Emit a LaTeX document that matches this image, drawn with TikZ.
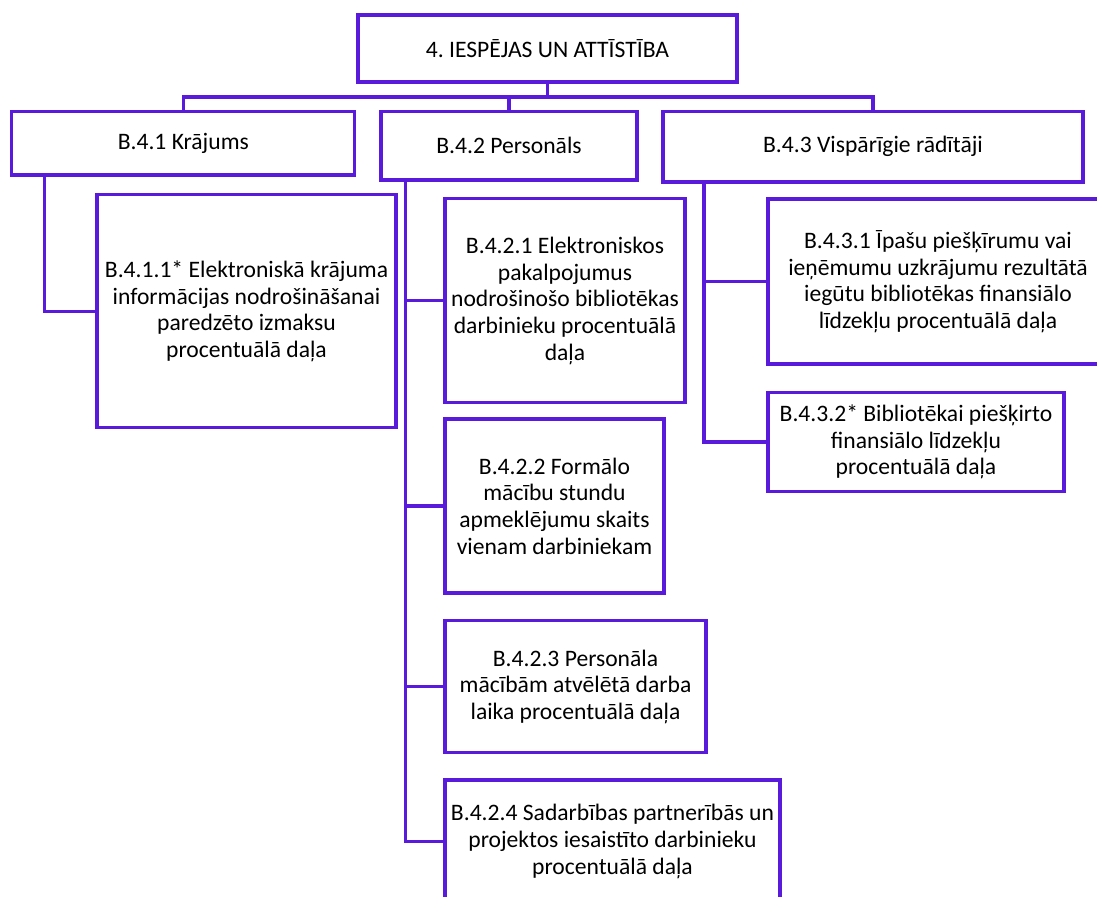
\documentclass[tikz,border=0pt]{standalone}
\usepackage{fontspec}
\setmainfont{Carlito}
\usepackage{tikz}
\usetikzlibrary{calc}
\definecolor{Violet}{HTML}{5A1ADC}
\tikzset{
  box/.style={draw=Violet,line width=1.6pt,fill=white,align=center,inner sep=2pt,
              font=\fontsize{11.8}{13.3}\selectfont\frenchspacing},
  branch/.style={draw=Violet,line width=1.6pt}
}
\begin{document}
\begin{tikzpicture}[x=0.5pt,y=-0.5pt]
  \useasboundingbox (0,0) rectangle (1097,897);
  \clip (0,0) rectangle (1097,897);
  % top level
  \node[box,minimum width=189.5pt,minimum height=33.5pt] (root) at (547.5,48.5) {4. IESPĒJAS UN ATTĪSTĪBA};
  % second level
  \node[box,minimum width=171.5pt,minimum height=31.75pt] (stock) at (183.3,143.3) {B.4.1 Krājums};
  \node[box,minimum width=128pt,minimum height=34.25pt] (staff) at (509,145.8) {B.4.2 Personāls};
  \node[box,minimum width=210pt,minimum height=35.25pt] (general) at (873,146.8) {B.4.3 Vispārīgie rādītāji};
  % indicators
  \node[box,minimum width=149.5pt,minimum height=116.5pt] (stockA) at (246.5,311.3)
    {B.4.1.1* Elektroniskā krājuma\\informācijas nodrošināšanai\\paredzēto izmaksu\\procentuālā daļa};
  \node[box,minimum width=120pt,minimum height=102pt] (staffA) at (565,300.8)
    {B.4.2.1 Elektroniskos\\pakalpojumus\\nodrošinošo bibliotēkas\\darbinieku procentuālā\\daļa};
  \node[box,minimum width=109.5pt,minimum height=87pt] (staffB) at (554.5,506)
    {B.4.2.2 Formālo\\mācību stundu\\apmeklējumu skaits\\vienam darbiniekam};
  \node[box,minimum width=130.5pt,minimum height=66pt] (staffC) at (575.5,686.7)
    {B.4.2.3 Personāla\\mācībām atvēlētā darba\\laika procentuālā daļa};
  \node[box,minimum width=167.5pt,minimum height=61.5pt] (staffD) at (612.5,841.5)
    {B.4.2.4 Sadarbības partnerībās un\\projektos iesaistīto darbinieku\\procentuālā daļa};
  \node[box,minimum width=170pt,minimum height=82.5pt] (generalA) at (938,281.5)
    {B.4.3.1 Īpašu piešķīrumu vai\\ieņēmumu uzkrājumu rezultātā\\iegūtu bibliotēkas finansiālo\\līdzekļu procentuālā daļa};
  \node[box,minimum width=148pt,minimum height=49.5pt] (generalB) at (916,442)
    {B.4.3.2* Bibliotēkai piešķirto\\finansiālo līdzekļu\\procentuālā daļa};

  % bus under the root
  \coordinate (bus) at (547.5,97);
  \draw[branch] (root.south) -- (bus);
  \draw[branch] (stock.north) |- (bus) -| (general.north);
  \draw[branch] (staff.north) -- (staff.north |- bus);

  % spines
  \coordinate (s1) at ($(stock.south west)+(34,0)$);
  \coordinate (s2) at ($(staff.south west)+(26,0)$);
  \coordinate (s3) at ($(general.south west)+(42.5,0)$);
  \draw[branch] (s1) |- (stockA.west);
  \draw[branch] (s2) |- (staffD.west);
  \foreach \n in {staffA,staffB,staffC}
    \draw[branch] (s2 |- \n.west) -- (\n.west);
  \draw[branch] (s3) |- (generalB.west);
  \draw[branch] (s3 |- generalA.west) -- (generalA.west);
\end{tikzpicture}
\end{document}
